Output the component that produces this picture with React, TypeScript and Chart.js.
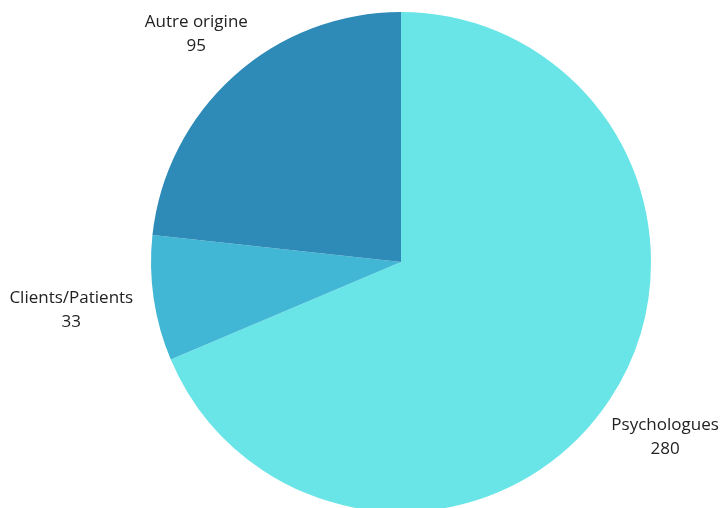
import React, { useEffect, useRef } from "react";
import { Chart, registerables } from "chart.js";

Chart.register(...registerables);

const categories = ["Psychologues", "Clients/Patients", "Autre origine"];
const values = [280, 33, 95];
const colors = ["#69E5E8", "#41B7D5", "#2E8BB8"];

const labelPlugin = {
  id: "outerLabels",
  afterDraw(chart: any) {
    const ctx = chart.ctx;
    const meta = chart.getDatasetMeta(0);
    ctx.save();
    ctx.font = '17px "Open Sans", sans-serif';
    ctx.fillStyle = "#222222";
    ctx.textAlign = "center";
    ctx.textBaseline = "middle";
    meta.data.forEach((arc: any, i: number) => {
      const { x, y, startAngle, endAngle, outerRadius } = arc.getProps(
        ["x", "y", "startAngle", "endAngle", "outerRadius"],
        true
      );
      const mid = (startAngle + endAngle) / 2;
      const dx = Math.cos(mid);
      const dy = Math.sin(mid);
      const name = categories[i];
      const val = String(values[i]);
      const w = Math.max(ctx.measureText(name).width, ctx.measureText(val).width);
      const r = outerRadius + 22 + (w / 2) * Math.abs(dx);
      const cx = x + dx * r;
      const cy = y + dy * r;
      ctx.fillText(name, cx, cy - 12);
      ctx.fillText(val, cx, cy + 12);
    });
    ctx.restore();
  },
};

export default function App() {
  const ref = useRef<HTMLCanvasElement>(null);
  useEffect(() => {
    const chart = new Chart(ref.current!, {
      type: "pie",
      data: {
        labels: categories,
        datasets: [
          {
            data: values,
            backgroundColor: colors,
            borderWidth: 0,
          },
        ],
      },
      options: {
        responsive: false,
        animation: false,
        layout: { padding: { left: 151, right: 73, top: 12, bottom: 8 } },
        plugins: {
          legend: { display: false },
          tooltip: { enabled: false },
        },
      },
      plugins: [labelPlugin],
    });
    return () => chart.destroy();
  }, []);
  return (
    <div
      style={{
        position: "fixed",
        left: 0,
        top: 0,
        width: 724,
        height: 508,
        overflow: "hidden",
        background: "#ffffff",
      }}
    >
      <canvas ref={ref} width={724} height={520} style={{ display: "block" }} />
    </div>
  );
}
